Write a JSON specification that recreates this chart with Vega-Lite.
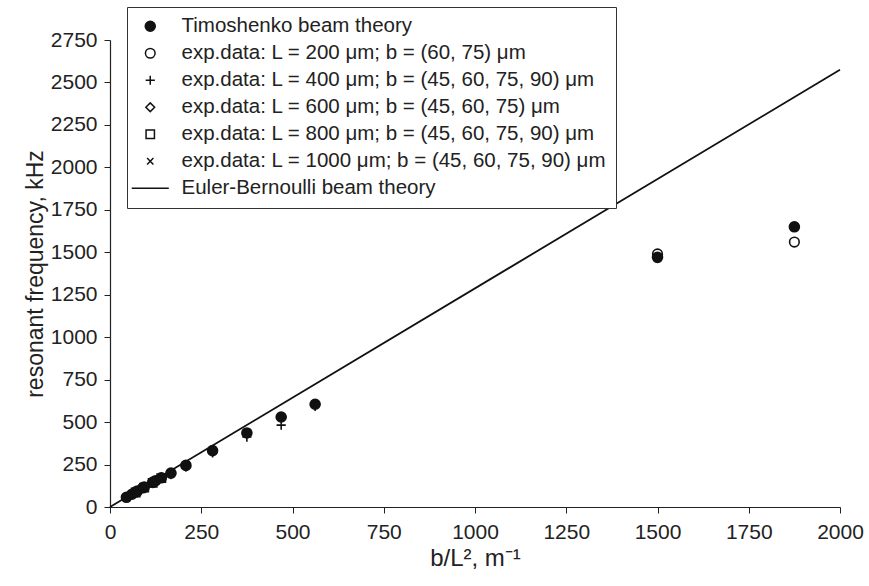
{
  "$schema": "https://vega.github.io/schema/vega-lite/v6.json",
  "width": 730,
  "height": 467,
  "autosize": {"type": "none"},
  "padding": {"left": 110, "top": 40, "right": 29, "bottom": 79},
  "background": "white",
  "config": {
    "view": {"stroke": null},
    "font": "Liberation Sans",
    "axis": {
      "domainColor": "#222",
      "tickColor": "#222",
      "labelColor": "#222",
      "titleColor": "#222",
      "labelFont": "Liberation Sans",
      "titleFont": "Liberation Sans",
      "labelFontSize": 21,
      "titleFontSize": 23,
      "titleFontWeight": "normal",
      "grid": false,
      "tickSize": 6,
      "domainWidth": 1.2,
      "format": "d"
    }
  },
  "datasets": {
    "pts": [
      {"series": "exp.data: L = 200 μm; b = (60, 75) μm", "x": 1500, "y": 1490},
      {"series": "exp.data: L = 200 μm; b = (60, 75) μm", "x": 1875, "y": 1560},
      {"series": "exp.data: L = 400 μm; b = (45, 60, 75, 90) μm", "x": 281, "y": 318},
      {"series": "exp.data: L = 400 μm; b = (45, 60, 75, 90) μm", "x": 375, "y": 412},
      {"series": "exp.data: L = 400 μm; b = (45, 60, 75, 90) μm", "x": 469, "y": 482},
      {"series": "exp.data: L = 400 μm; b = (45, 60, 75, 90) μm", "x": 562, "y": 592},
      {"series": "exp.data: L = 600 μm; b = (45, 60, 75) μm", "x": 125, "y": 152},
      {"series": "exp.data: L = 600 μm; b = (45, 60, 75) μm", "x": 167, "y": 195},
      {"series": "exp.data: L = 600 μm; b = (45, 60, 75) μm", "x": 208, "y": 238},
      {"series": "exp.data: L = 800 μm; b = (45, 60, 75, 90) μm", "x": 70.3, "y": 86},
      {"series": "exp.data: L = 800 μm; b = (45, 60, 75, 90) μm", "x": 93.75, "y": 114},
      {"series": "exp.data: L = 800 μm; b = (45, 60, 75, 90) μm", "x": 117, "y": 142},
      {"series": "exp.data: L = 800 μm; b = (45, 60, 75, 90) μm", "x": 140.6, "y": 170},
      {"series": "exp.data: L = 1000 μm; b = (45, 60, 75, 90) μm", "x": 45, "y": 56},
      {"series": "exp.data: L = 1000 μm; b = (45, 60, 75, 90) μm", "x": 60, "y": 74},
      {"series": "exp.data: L = 1000 μm; b = (45, 60, 75, 90) μm", "x": 75, "y": 92},
      {"series": "exp.data: L = 1000 μm; b = (45, 60, 75, 90) μm", "x": 90, "y": 110},
      {"series": "Timoshenko beam theory", "x": 45, "y": 57},
      {"series": "Timoshenko beam theory", "x": 60, "y": 75},
      {"series": "Timoshenko beam theory", "x": 70.3, "y": 88},
      {"series": "Timoshenko beam theory", "x": 75, "y": 94},
      {"series": "Timoshenko beam theory", "x": 90, "y": 113},
      {"series": "Timoshenko beam theory", "x": 93.75, "y": 117},
      {"series": "Timoshenko beam theory", "x": 117, "y": 145},
      {"series": "Timoshenko beam theory", "x": 125, "y": 155},
      {"series": "Timoshenko beam theory", "x": 140.6, "y": 172},
      {"series": "Timoshenko beam theory", "x": 167, "y": 200},
      {"series": "Timoshenko beam theory", "x": 208, "y": 245},
      {"series": "Timoshenko beam theory", "x": 281, "y": 332},
      {"series": "Timoshenko beam theory", "x": 375, "y": 436},
      {"series": "Timoshenko beam theory", "x": 469, "y": 530},
      {"series": "Timoshenko beam theory", "x": 562, "y": 605},
      {"series": "Timoshenko beam theory", "x": 1500, "y": 1470},
      {"series": "Timoshenko beam theory", "x": 1875, "y": 1650}
    ],
    "eb": [
      {"x": 0, "y": 0},
      {"x": 2000, "y": 2575}
    ]
  },
  "layer": [
    {
      "data": {"name": "eb"},
      "mark": {"type": "line", "color": "#111", "strokeWidth": 1.8},
      "encoding": {
        "x": {
          "field": "x", "type": "quantitative",
          "scale": {"domain": [0, 2000], "nice": false},
          "axis": {"values": [0, 250, 500, 750, 1000, 1250, 1500, 1750, 2000], "title": "b/L², m⁻¹", "titleFontSize": 24, "labelPadding": 8, "titlePadding": 4, "labelFlush": false}
        },
        "y": {
          "field": "y", "type": "quantitative",
          "scale": {"domain": [0, 2750], "nice": false},
          "axis": {"values": [0, 250, 500, 750, 1000, 1250, 1500, 1750, 2000, 2250, 2500, 2750], "title": "resonant frequency, kHz", "labelPadding": 7, "titlePadding": 3}
        }
      }
    },
    {
      "data": {"name": "pts"},
      "mark": {"type": "point", "strokeWidth": 1.6, "opacity": 1},
      "encoding": {
        "x": {"field": "x", "type": "quantitative"},
        "y": {"field": "y", "type": "quantitative"},
        "shape": {
          "field": "series", "type": "nominal",
          "scale": {
            "domain": [
              "Timoshenko beam theory",
              "exp.data: L = 200 μm; b = (60, 75) μm",
              "exp.data: L = 400 μm; b = (45, 60, 75, 90) μm",
              "exp.data: L = 600 μm; b = (45, 60, 75) μm",
              "exp.data: L = 800 μm; b = (45, 60, 75, 90) μm",
              "exp.data: L = 1000 μm; b = (45, 60, 75, 90) μm",
              "Euler-Bernoulli beam theory"
            ],
            "range": ["circle", "circle", "M-1,0H1M0,-1V1", "diamond", "square", "M-0.8,-0.8L0.8,0.8M-0.8,0.8L0.8,-0.8", "M-5,0H5"]
          },
          "legend": {
            "title": null,
            "orient": "none",
            "legendX": 17,
            "legendY": -33,
            "strokeColor": "#333",
            "padding": 9,
            "labelFontSize": 20.5,
            "labelFont": "Liberation Sans",
            "labelColor": "#222",
            "labelLimit": 600,
            "rowPadding": 6,
            "symbolOffset": 4,
            "labelOffset": 21,
            "fillColor": "white"
          }
        },
        "size": {
          "field": "series", "type": "nominal",
          "scale": {
            "domain": [
              "Timoshenko beam theory",
              "exp.data: L = 200 μm; b = (60, 75) μm",
              "exp.data: L = 400 μm; b = (45, 60, 75, 90) μm",
              "exp.data: L = 600 μm; b = (45, 60, 75) μm",
              "exp.data: L = 800 μm; b = (45, 60, 75, 90) μm",
              "exp.data: L = 1000 μm; b = (45, 60, 75, 90) μm",
              "Euler-Bernoulli beam theory"
            ],
            "range": [100, 55, 70, 45, 40, 45, 49]
          }
        },
        "stroke": {
          "field": "series", "type": "nominal",
          "scale": {
            "domain": [
              "Timoshenko beam theory",
              "exp.data: L = 200 μm; b = (60, 75) μm",
              "exp.data: L = 400 μm; b = (45, 60, 75, 90) μm",
              "exp.data: L = 600 μm; b = (45, 60, 75) μm",
              "exp.data: L = 800 μm; b = (45, 60, 75, 90) μm",
              "exp.data: L = 1000 μm; b = (45, 60, 75, 90) μm",
              "Euler-Bernoulli beam theory"
            ],
            "range": ["#111", "#111", "#111", "#111", "#111", "#111", "#111"]
          }
        },
        "fill": {
          "field": "series", "type": "nominal",
          "scale": {
            "domain": [
              "Timoshenko beam theory",
              "exp.data: L = 200 μm; b = (60, 75) μm",
              "exp.data: L = 400 μm; b = (45, 60, 75, 90) μm",
              "exp.data: L = 600 μm; b = (45, 60, 75) μm",
              "exp.data: L = 800 μm; b = (45, 60, 75, 90) μm",
              "exp.data: L = 1000 μm; b = (45, 60, 75, 90) μm",
              "Euler-Bernoulli beam theory"
            ],
            "range": ["#111", "transparent", "transparent", "transparent", "transparent", "transparent", "transparent"]
          }
        }
      }
    }
  ]
}
